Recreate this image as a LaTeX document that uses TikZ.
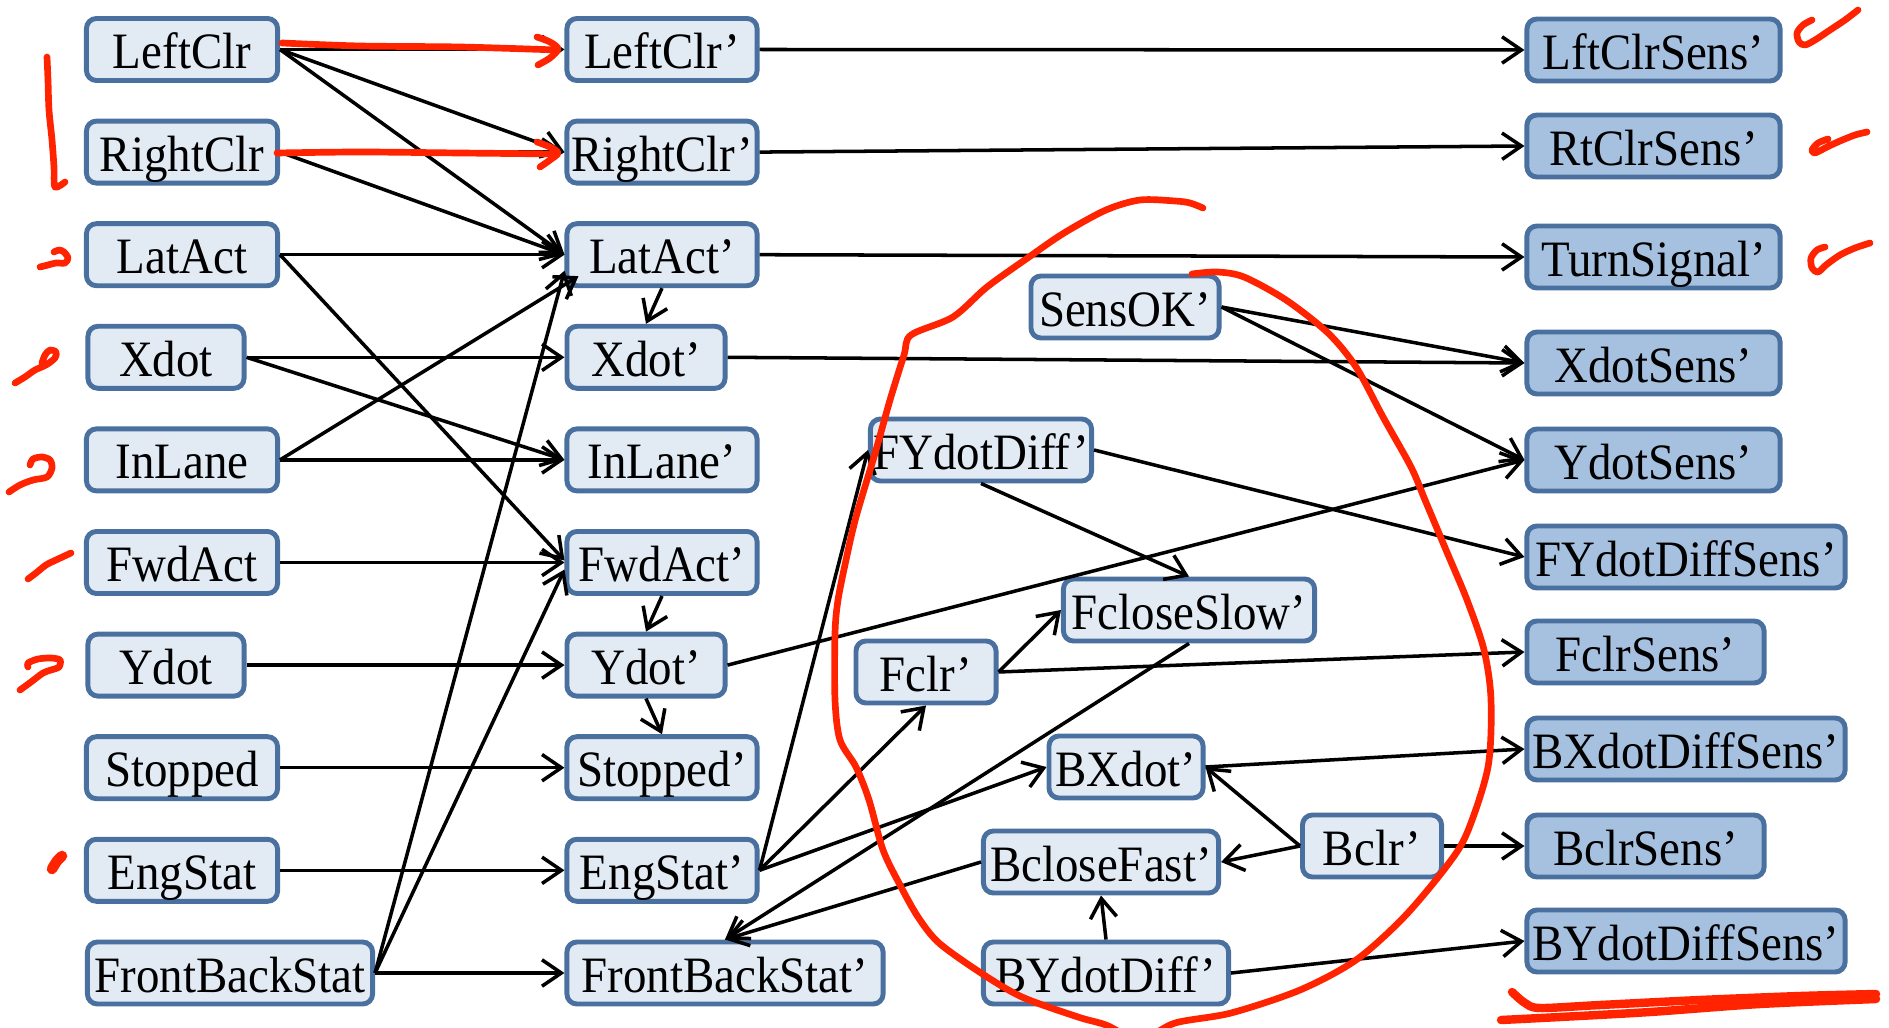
\documentclass[tikz,border=0pt]{standalone}
\usepackage{fontspec}
\setmainfont{Liberation Serif}[FakeStretch=0.92]
\usetikzlibrary{arrows.meta,calc}
\definecolor{boxline}{RGB}{73,112,158}
\definecolor{boxfill}{RGB}{226,234,244}
\definecolor{sensfill}{RGB}{166,193,224}
\definecolor{inkred}{RGB}{255,35,0}

\begin{document}
\begin{tikzpicture}[x=0.01cm,y=-0.01cm,
  var/.style={draw=boxline, fill=boxfill, line width=1.4pt, rounded corners=0.1cm,
    minimum height=0.62cm, inner sep=0pt, text height=0.46cm, text depth=0.08cm,
    font=\fontsize{14.5pt}{16pt}\selectfont},
  sens/.style={var, fill=sensfill},
  link/.style={line width=1pt, -{Straight Barb[length=5.5pt,width=7.5pt]}},
  ink/.style={draw=inkred, line width=1.9pt, line cap=round, line join=round},
]
\useasboundingbox (0,0) rectangle (1889,1028);
\clip (0,0) rectangle (1889,1028);
\fill[white] (0,0) rectangle (1889,1028);

% current-state variables
\node[var, minimum width=1.91cm] (lc) at (182,49.5)  {LeftClr};
\node[var, minimum width=1.91cm] (rc) at (182,152.1) {RightClr};
\node[var, minimum width=1.91cm] (la) at (182,254.7) {LatAct};
\node[var, minimum width=1.56cm] (xd) at (166,357.3) {Xdot};
\node[var, minimum width=1.91cm] (il) at (182,459.9) {InLane};
\node[var, minimum width=1.91cm] (fa) at (182,562.5) {FwdAct};
\node[var, minimum width=1.56cm] (yd) at (166,665.1) {Ydot};
\node[var, minimum width=1.91cm] (st) at (182,767.7) {Stopped};
\node[var, minimum width=1.91cm] (es) at (182,870.3) {EngStat};
\node[var, minimum width=2.85cm] (fb) at (230,973)   {FrontBackStat};

% next-state variables
\node[var, minimum width=1.90cm] (lcp) at (662,49.5)  {LeftClr’};
\node[var, minimum width=1.90cm] (rcp) at (662,152.1) {RightClr’};
\node[var, minimum width=1.90cm] (lap) at (662,254.7) {LatAct’};
\node[var, minimum width=1.58cm] (xdp) at (646,357.3) {Xdot’};
\node[var, minimum width=1.90cm] (ilp) at (662,459.9) {InLane’};
\node[var, minimum width=1.90cm] (fap) at (662,562.5) {FwdAct’};
\node[var, minimum width=1.58cm] (ydp) at (646,665.1) {Ydot’};
\node[var, minimum width=1.90cm] (stp) at (662,767.7) {Stopped’};
\node[var, minimum width=1.90cm] (esp) at (662,870.3) {EngStat’};
\node[var, minimum width=3.16cm] (fbp) at (725,973)   {FrontBackStat’};

% intermediate variables
\node[var, minimum width=1.88cm] (sok)  at (1125,307) {SensOK’};
\node[var, minimum width=2.21cm] (fydp) at (981,450)  {FYdotDiff’};
\node[var, minimum width=2.51cm] (fslp) at (1189,610) {FcloseSlow’};
\node[var, minimum width=1.40cm] (fclp) at (926,672)  {Fclr’};
\node[var, minimum width=1.54cm] (bxdp) at (1126,767) {BXdot’};
\node[var, minimum width=2.35cm] (bcfp) at (1101,862) {BcloseFast’};
\node[var, minimum width=1.39cm] (bclp) at (1372,846) {Bclr’};
\node[var, minimum width=2.45cm] (bydp) at (1106,973) {BYdotDiff’};

% sensor outputs
\node[sens, minimum width=2.53cm] (lcs)  at (1653.5,50)  {LftClrSens’};
\node[sens, minimum width=2.53cm] (rcs)  at (1653.5,146) {RtClrSens’};
\node[sens, minimum width=2.53cm] (tss)  at (1653.5,257) {TurnSignal’};
\node[sens, minimum width=2.53cm] (xds)  at (1653.5,363) {XdotSens’};
\node[sens, minimum width=2.53cm] (yds)  at (1653.5,460) {YdotSens’};
\node[sens, minimum width=3.18cm] (fyds) at (1686,557)   {FYdotDiffSens’};
\node[sens, minimum width=2.37cm] (fcs)  at (1645.5,652) {FclrSens’};
\node[sens, minimum width=3.18cm] (bxds) at (1686,749)   {BXdotDiffSens’};
\node[sens, minimum width=2.37cm] (bcs)  at (1645.5,846) {BclrSens’};
\node[sens, minimum width=3.18cm] (byds) at (1686,941)   {BYdotDiffSens’};

% dependencies into the next state
\draw[link] (lc.east) -- (lcp.west);
\draw[link] (lc.east) -- (rcp.west);
\draw[link] (lc.east) -- (lap.west);
\draw[link] (rc.east) -- (rcp.west);
\draw[link] (rc.east) -- (lap.west);
\draw[link] (la.east) -- (lap.west);
\draw[link] (la.east) -- ($(fap.west)+(0,-2)$);
\draw[link] (xd.east) -- (xdp.west);
\draw[link] (xd.east) -- (ilp.west);
\draw[link] (il.east) -- (ilp.west);
\draw[link] (il.east) -- ($(lap.south west)+(14,-12)$);
\draw[link] (fa.east) -- (fap.west);
\draw[link] (yd.east) -- (ydp.west);
\draw[link] (st.east) -- (stp.west);
\draw[link] (es.east) -- (esp.west);
\draw[link] (fb.east) -- (fbp.west);
\draw[link] (fb.east) -- ($(lap.west)+(0,16)$);
\draw[link] (fb.east) -- ($(fap.west)+(0,7)$);
\draw[link] (lap.south) -- (xdp.north);
\draw[link] (fap.south) -- (ydp.north);
\draw[link] (ydp.south) -- (stp.north);

% sensor models
\draw[link] (lcp.east) -- (lcs.west);
\draw[link] (rcp.east) -- (rcs.west);
\draw[link] (lap.east) -- (tss.west);
\draw[link] (xdp.east) -- (xds.west);
\draw[link] (sok.east) -- (xds.west);
\draw[link] (sok.east) -- (yds.west);
\draw[link] (ydp.east) -- (yds.west);
\draw[link] (fydp.east) -- (fyds.west);
\draw[link] (fydp.south) -- (fslp.north);
\draw[link] (fclp.east) -- (fslp.west);
\draw[link] (fclp.east) -- (fcs.west);
\draw[link] (esp.east) -- (fydp.west);
\draw[link] (esp.east) -- (fclp.south);
\draw[link] (esp.east) -- (bxdp.west);
\draw[link] (fslp.south) -- (fbp.north);
\draw[link] (bcfp.west) -- (fbp.north);
\draw[link] (bxdp.east) -- (bxds.west);
\draw[link] (bclp.west) -- (bxdp.east);
\draw[link] (bclp.west) -- (bcfp.east);
\draw[link] (bclp.east) -- (bcs.west);
\draw[link] (bydp.north) -- (bcfp.south);
\draw[link] (bydp.east) -- (byds.west);

% hand-drawn red annotations
\draw[ink] plot[smooth] coordinates {(282,43) (360,46) (460,47) (557,50)};
\draw[ink] plot[smooth] coordinates {(537,37) (550,42) (558,49) (550,58) (538,65)};
\draw[ink] plot[smooth] coordinates {(277,153) (360,152) (460,153) (557,154)};
\draw[ink] plot[smooth] coordinates {(537,142) (550,147) (558,153) (550,160) (540,167)};
\draw[ink] plot[smooth] coordinates {(47,57) (48,80) (49,110) (52,140) (54,167) (55,187) (65,182)};
\draw[ink] plot[smooth] coordinates {(40,267) (48,265) (56,263) (65,263) (68,258) (64,252) (59,250) (54,252)};
\draw[ink] plot[smooth] coordinates {(15,383) (25,377) (35,370) (46,365) (55,358) (56,352) (50,350) (45,355) (42,363)};
\draw[ink] plot[smooth] coordinates {(9,492) (20,485) (33,480) (47,477) (52,468) (50,460) (42,457) (33,459) (30,465)};
\draw[ink] plot[smooth] coordinates {(28,579) (36,573) (46,565) (56,560) (71,553)};
\draw[ink] plot[smooth] coordinates {(20,690) (31,682) (43,673) (51,670) (59,667) (60,660) (51,658) (38,659) (28,663) (28,667)};
\draw[ink, line width=3pt] plot[smooth] coordinates {(52,869) (57,861) (62,856)};
\draw[ink] plot[smooth] coordinates {(1858,10) (1845,20) (1830,30) (1815,40) (1805,45) (1799,42) (1797,33) (1803,25) (1812,20)};
\draw[ink] plot[smooth] coordinates {(1867,132) (1855,135) (1840,141) (1827,147) (1815,153) (1812,150) (1818,143) (1828,139)};
\draw[ink] plot[smooth] coordinates {(1870,243) (1855,248) (1840,255) (1826,265) (1818,272) (1812,268) (1811,258) (1817,250) (1825,247)};
\draw[ink] plot[smooth] coordinates {(1203,208) (1190,203) (1175,201) (1140,200) (1106,210) (1064,233) (1029,257)
  (987,287) (953,317) (911,335) (904,355) (890,400) (876,450) (856,517) (846,560) (838,600) (835,633)
  (835,700) (840,740) (856,767) (869,800) (883,850) (900,885) (918,917) (939,943) (981,973) (1022,997)
  (1078,1017) (1106,1025) (1140,1040) (1175,1023) (1231,1013) (1300,990) (1356,960) (1404,917) (1446,867)
  (1467,833) (1488,767) (1491,700) (1484,650) (1467,600) (1446,550) (1425,500) (1411,467) (1383,417)
  (1356,367) (1328,333) (1286,300) (1244,277) (1217,272) (1192,274)};
\draw[ink, line width=2.4pt] plot[smooth] coordinates {(1512,992) (1525,1003) (1540,1008) (1600,1005) (1700,1000) (1800,996) (1876,994)};
\draw[ink, line width=2.4pt] plot[smooth] coordinates {(1501,1020) (1560,1017) (1650,1012) (1760,1004) (1876,999)};
\end{tikzpicture}
\end{document}
